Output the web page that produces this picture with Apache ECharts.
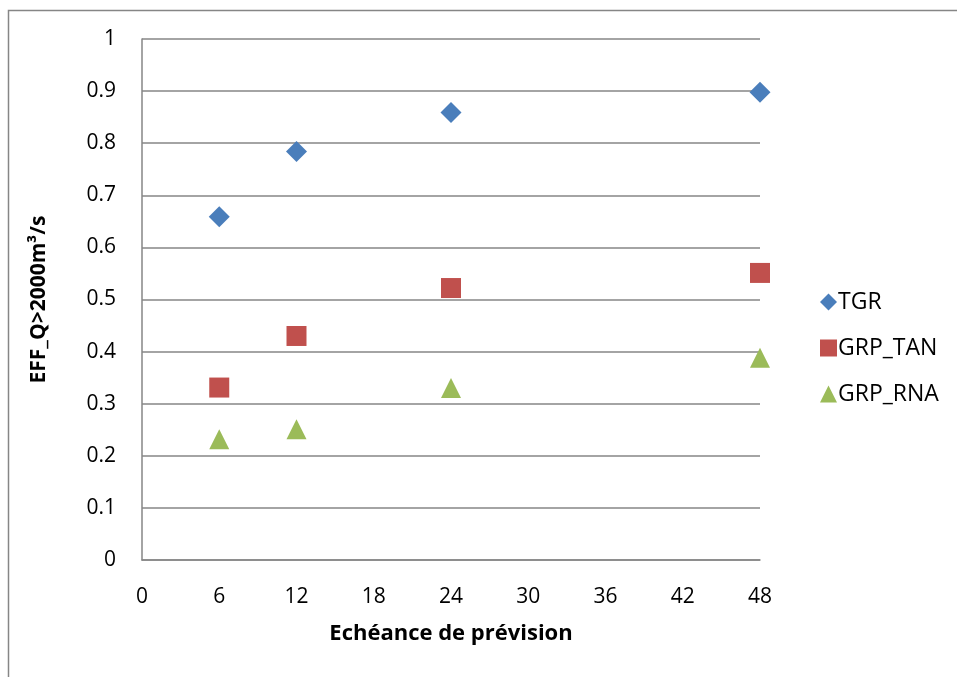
<!DOCTYPE html>
<html>
<head>
<meta charset="utf-8">
<script src="https://cdn.jsdelivr.net/npm/echarts@6/dist/echarts.min.js"></script>
<style>html,body{margin:0;padding:0;background:#fff;}#c{width:957px;height:677px;}</style>
</head>
<body>
<div id="c"></div>
<script>
const xValues = [6, 12, 24, 48];
const tgr = [0.659, 0.784, 0.859, 0.898];
const grpTan = [0.331, 0.430, 0.522, 0.551];
const grpRna = [0.232, 0.251, 0.330, 0.388];
const seriesNames = ['TGR', 'GRP_TAN', 'GRP_RNA'];
const xTitle = 'Echéance de prévision';
const yTitle = 'EFF_Q>2000m³/s';

const FONT = '"Open Sans", sans-serif';
const pair = arr => xValues.map((x, i) => [x, arr[i]]);

const chart = echarts.init(document.getElementById('c'), null, {renderer: 'canvas'});
chart.setOption({
  animation: false,
  backgroundColor: '#fff',
  graphic: [{
    type: 'rect', shape: {x: 8.5, y: 10.5, width: 1200, height: 1200},
    style: {fill: 'none', stroke: '#868686', lineWidth: 1.5}, silent: true, z: -1
  }],
  grid: {left: 142, right: 197, top: 39, bottom: 117, containLabel: false},
  legend: {
    orient: 'vertical', left: 815, top: 285.5,
    itemWidth: 17, itemHeight: 17, itemGap: 23,
    textStyle: {fontFamily: FONT, fontSize: 23, color: '#000', padding: [0, 0, 0, -4]},
    data: [
      {name: seriesNames[0], icon: 'diamond'},
      {name: seriesNames[1], icon: 'rect'},
      {name: seriesNames[2], icon: 'triangle'}
    ]
  },
  xAxis: {
    type: 'value', min: 0, max: 48, interval: 6,
    name: xTitle, nameLocation: 'middle', nameGap: 63,
    nameTextStyle: {fontFamily: FONT, fontSize: 22, fontWeight: 'bold', color: '#000'},
    axisLine: {show: true, lineStyle: {color: '#868686', width: 1.5}},
    axisTick: {show: false},
    axisLabel: {fontFamily: FONT, fontSize: 21, color: '#000', margin: 27},
    splitLine: {show: false}
  },
  yAxis: {
    type: 'value', min: 0, max: 1, interval: 0.1,
    name: yTitle, nameLocation: 'middle', nameGap: 92,
    nameTextStyle: {fontFamily: FONT, fontSize: 21, fontWeight: 'bold', color: '#000'},
    axisLine: {show: true, lineStyle: {color: '#868686', width: 1.5}},
    axisTick: {show: false},
    axisLabel: {fontFamily: FONT, fontSize: 21, color: '#000', margin: 26,
      formatter: v => String(Math.round(v * 10) / 10)},
    splitLine: {show: true, lineStyle: {color: '#868686', width: 1.5}}
  },
  series: [
    {name: seriesNames[0], type: 'scatter', symbol: 'diamond', symbolSize: 21,
      itemStyle: {color: '#4A7EBB', opacity: 1}, data: pair(tgr)},
    {name: seriesNames[1], type: 'scatter', symbol: 'rect', symbolSize: 20,
      itemStyle: {color: '#C0504D', opacity: 1}, data: pair(grpTan)},
    {name: seriesNames[2], type: 'scatter', symbol: 'triangle', symbolSize: 20,
      itemStyle: {color: '#9BBB59', opacity: 1}, data: pair(grpRna)}
  ]
});
</script>
</body>
</html>
